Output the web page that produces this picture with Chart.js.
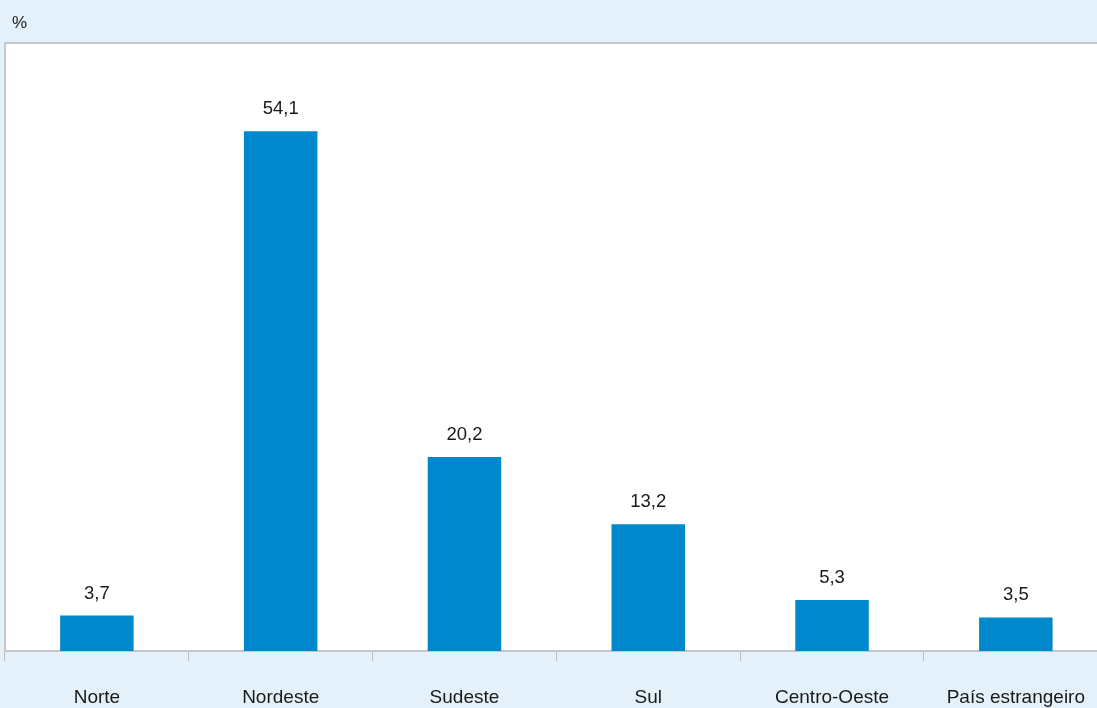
<!DOCTYPE html>
<html>
<head>
<meta charset="utf-8">
<script src="https://cdn.jsdelivr.net/npm/chart.js@4"></script>
<style>
  html, body { margin: 0; padding: 0; background: #e5f1fa; overflow: hidden; }
  #wrap { position: relative; width: 1110px; height: 708px; }
  #unit { position: absolute; left: 12px; top: 13px; font: 17px "Liberation Sans", Arial, sans-serif; color: #1a1a1a; }
</style>
</head>
<body>
<div id="wrap">
  <canvas id="barChart"></canvas>
  <div id="unit">%</div>
</div>
<script>
// Regiões e percentuais
const regioes = ['Norte', 'Nordeste', 'Sudeste', 'Sul', 'Centro-Oeste', 'País estrangeiro'];
const valores = [3.7, 54.1, 20.2, 13.2, 5.3, 3.5];

// fundo branco da área do gráfico + bordas
const areaBranca = {
    id: 'areaBranca',
    beforeDraw(chart) {
        const { ctx, chartArea: a } = chart;
        ctx.save();
        ctx.fillStyle = '#ffffff';
        ctx.fillRect(a.left, a.top, a.right - a.left, a.bottom - a.top);
        ctx.strokeStyle = '#c4c8cc';
        ctx.lineWidth = 2;
        ctx.beginPath();
        ctx.moveTo(a.left, a.bottom);
        ctx.lineTo(a.left, a.top);
        ctx.lineTo(a.right, a.top);
        ctx.stroke();
        ctx.restore();
    }
};

// rótulos de valor acima das barras
const rotulos = {
    id: 'rotulos',
    afterDatasetsDraw(chart) {
        const { ctx } = chart;
        const meta = chart.getDatasetMeta(0);
        ctx.save();
        ctx.font = '18.5px "Liberation Sans", Arial, sans-serif';
        ctx.fillStyle = '#1a1a1a';
        ctx.textAlign = 'center';
        ctx.textBaseline = 'middle';
        meta.data.forEach((bar, i) => {
            ctx.fillText(valores[i].toFixed(1).replace('.', ','), bar.x, bar.y - 22);
        });
        ctx.restore();
    }
};

const ctx = document.getElementById('barChart').getContext('2d');
new Chart(ctx, {
    type: 'bar',
    data: {
        labels: regioes,
        datasets: [{
            data: valores,
            backgroundColor: '#0088cc',
            barPercentage: 0.4,
            categoryPercentage: 1
        }]
    },
    options: {
        responsive: true,
        maintainAspectRatio: false,
        animation: false,
        layout: { padding: { left: 5, top: 43, right: 0, bottom: 0 } },
        plugins: {
            legend: { display: false },
            tooltip: { enabled: false }
        },
        scales: {
            x: {
                offset: true,
                afterFit(scale) { scale.height = 57; },
                grid: {
                    offset: true,
                    drawOnChartArea: false,
                    color: '#b8bcc0',
                    tickLength: 10,
                    lineWidth: 1
                },
                border: { color: '#c4c8cc', width: 2 },
                ticks: {
                    padding: 25,
                    color: '#1a1a1a',
                    font: { family: '"Liberation Sans", Arial, sans-serif', size: 19 },
                    maxRotation: 0,
                    autoSkip: false
                }
            },
            y: {
                display: false,
                min: 0,
                max: 63.3
            }
        }
    },
    plugins: [areaBranca, rotulos]
});
</script>
</body>
</html>
